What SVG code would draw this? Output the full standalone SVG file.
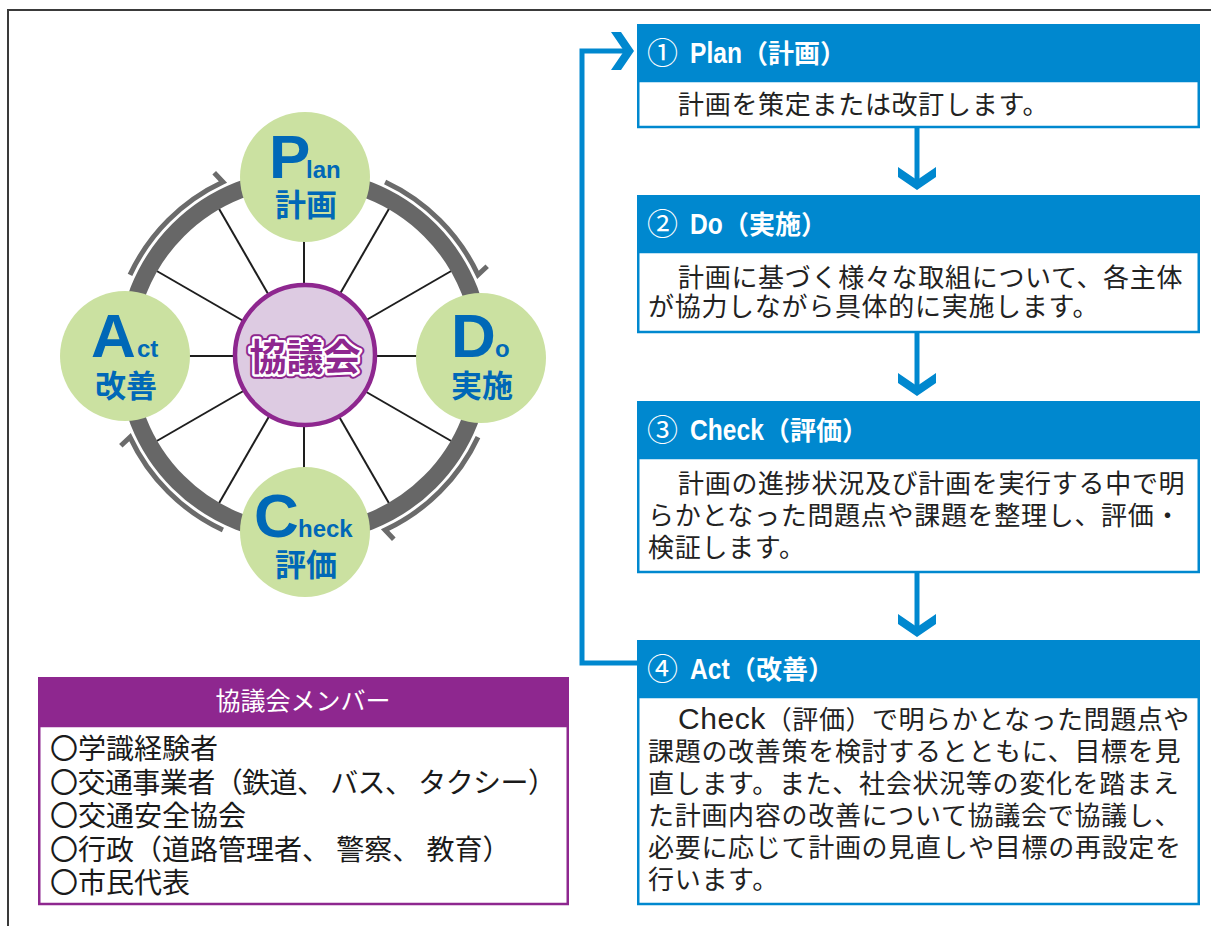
<svg xmlns="http://www.w3.org/2000/svg" width="1211" height="926" viewBox="0 0 1211 926">
<style>
.jp{font-family:"Noto Sans CJK JP","Noto Sans CJK SC",sans-serif}
.lat{font-family:"Liberation Sans",Arial,sans-serif;font-weight:bold}
.cyc{fill:#0068b7}
.kj{font-family:"Noto Sans CJK JP",sans-serif;font-weight:bold;font-size:31px;fill:#0068b7;text-anchor:middle}
.big{font-size:62px}
.sm{font-size:24px}
.pdca{fill:#cbe1a1}
.spoke{stroke:#1e1e1e;stroke-width:2}
.turn{fill:none;stroke:#6b6b6b;stroke-width:5;stroke-linejoin:miter}
.hdr{fill:#0088cf}
.body{fill:#fff;stroke:#0088cf;stroke-width:2.5}
.num{font-family:"Noto Sans CJK JP",sans-serif;font-size:31px;fill:#fff}
.hw{font-family:"Liberation Sans",Arial,sans-serif;font-weight:bold;font-size:30px;fill:#fff}
.hk{font-family:"Noto Sans CJK JP",sans-serif;font-weight:bold;font-size:26px;fill:#fff}
.bt{font-family:"Noto Sans CJK JP",sans-serif;font-size:26px;fill:#222;letter-spacing:0.7px}
.flow{fill:none;stroke:#0088cf;stroke-width:5}
.chev{fill:#0088cf}
.mt{font-family:"Noto Sans CJK JP",sans-serif;font-size:28px;fill:#1a1a1a}
</style>

<path d="M8,926 V10 H1211" fill="none" stroke="#3a3a3a" stroke-width="2"/>

<g id="cycle">
  <g id="spokes">
    <line class="spoke" x1="374" y1="356" x2="474" y2="356"/>
    <line class="spoke" x1="364.6" y1="391" x2="451.2" y2="441"/>
    <line class="spoke" x1="339" y1="416.6" x2="389" y2="503.2"/>
    <line class="spoke" x1="304" y1="426" x2="304" y2="526"/>
    <line class="spoke" x1="269" y1="416.6" x2="219" y2="503.2"/>
    <line class="spoke" x1="243.4" y1="391" x2="156.8" y2="441"/>
    <line class="spoke" x1="234" y1="356" x2="134" y2="356"/>
    <line class="spoke" x1="243.4" y1="321" x2="156.8" y2="271"/>
    <line class="spoke" x1="269" y1="295.4" x2="219" y2="208.8"/>
    <line class="spoke" x1="304" y1="286" x2="304" y2="186"/>
    <line class="spoke" x1="339" y1="295.4" x2="389" y2="208.8"/>
    <line class="spoke" x1="364.6" y1="321" x2="451.2" y2="271"/>
  </g>
  <circle id="ring" cx="304" cy="356" r="178" fill="none" stroke="#676767" stroke-width="17"/>
  <g id="turn-arrows">
    <path class="turn" d="M385.1,182 A192,192 0 0 1 478,274.9 L487.2,266.2"/>
    <path class="turn" d="M478,437.1 A192,192 0 0 1 385.1,530 L393.8,539.2"/>
    <path class="turn" d="M222.9,530 A192,192 0 0 1 130,437.1 L120.8,445.8"/>
    <path class="turn" d="M130,274.9 A192,192 0 0 1 222.9,182 L214.2,172.8"/>
  </g>
  <g id="plan">
    <circle class="pdca" cx="305" cy="177" r="65"/>
    <text class="lat cyc big" x="269" y="178">P</text>
    <text class="lat cyc sm" x="306" y="178">lan</text>
    <text class="kj" x="306" y="216">計画</text>
  </g>
  <g id="do">
    <circle class="pdca" cx="481" cy="358" r="65"/>
    <text class="lat cyc big" x="451" y="357">D</text>
    <text class="lat cyc sm" x="495" y="357">o</text>
    <text class="kj" x="482" y="397">実施</text>
  </g>
  <g id="check">
    <circle class="pdca" cx="305" cy="532" r="65"/>
    <text class="lat cyc big" x="254" y="537">C</text>
    <text class="lat cyc sm" x="298" y="537">heck</text>
    <text class="kj" x="306" y="576">評価</text>
  </g>
  <g id="act">
    <circle class="pdca" cx="125" cy="356" r="65"/>
    <text class="lat cyc big" x="91" y="357">A</text>
    <text class="lat cyc sm" x="137" y="357">ct</text>
    <text class="kj" x="126" y="397">改善</text>
  </g>
  <g id="council">
    <circle cx="305" cy="355" r="70" fill="#ddcbe2" stroke="#8e278f" stroke-width="4.5"/>
    <text class="jp" x="305" y="371" text-anchor="middle" font-size="37" font-weight="bold" fill="none" stroke="#8e278f" stroke-width="9" stroke-linejoin="round">協議会</text>
    <text class="jp" x="305" y="371" text-anchor="middle" font-size="37" font-weight="bold" fill="#8e278f" stroke="#fff" stroke-width="5" stroke-linejoin="round" paint-order="stroke">協議会</text>
  </g>
</g>

<g id="connectors">
  <line class="flow" x1="917" y1="128" x2="917" y2="180"/>
  <polygon class="chev" points="898,167 917,180 936,167 936,177 917,190 898,177"/>
  <line class="flow" x1="917" y1="333" x2="917" y2="386"/>
  <polygon class="chev" points="898,373 917,386 936,373 936,383 917,396 898,383"/>
  <line class="flow" x1="917" y1="573" x2="917" y2="627"/>
  <polygon class="chev" points="898,614 917,627 936,614 936,624 917,637 898,624"/>
  <path class="flow" d="M637,663 H582 V51 H624"/>
  <polygon class="chev" points="611,32 624,51 611,70 621,70 634,51 621,32"/>
</g>

<g id="step-plan">
  <rect class="hdr" x="637" y="24" width="563" height="57"/>
  <rect class="body" x="638.25" y="81" width="560.5" height="46"/>
  <text class="num" x="647" y="64">①</text>
  <text class="hw" transform="translate(690,63) scale(0.82,1)">Plan</text>
  <text class="hk" x="742" y="63">（計画）</text>
  <text class="bt" x="678" y="114">計画を策定または改訂します。</text>
</g>

<g id="step-do">
  <rect class="hdr" x="637" y="195" width="563" height="57"/>
  <rect class="body" x="638.25" y="252" width="560.5" height="80"/>
  <text class="num" x="647" y="235">②</text>
  <text class="hw" transform="translate(690,234) scale(0.82,1)">Do</text>
  <text class="hk" x="723" y="234">（実施）</text>
  <text class="bt" x="678" y="287">計画に基づく様々な取組について、各主体</text>
  <text class="bt" x="648" y="316">が協力しながら具体的に実施します。</text>
</g>

<g id="step-check">
  <rect class="hdr" x="637" y="401" width="563" height="57"/>
  <rect class="body" x="638.25" y="458" width="560.5" height="114"/>
  <text class="num" x="647" y="441">③</text>
  <text class="hw" transform="translate(690,440) scale(0.82,1)">Check</text>
  <text class="hk" x="764" y="440">（評価）</text>
  <text class="bt" x="678" y="493">計画の進捗状況及び計画を実行する中で明</text>
  <text class="bt" x="648" y="525">らかとなった問題点や課題を整理し、評価・</text>
  <text class="bt" x="648" y="557">検証します。</text>
</g>

<g id="step-act">
  <rect class="hdr" x="637" y="640" width="563" height="57"/>
  <rect class="body" x="638.25" y="697" width="560.5" height="207"/>
  <text class="num" x="647" y="680">④</text>
  <text class="hw" transform="translate(690,679) scale(0.82,1)">Act</text>
  <text class="hk" x="730" y="679">（改善）</text>
  <text class="bt" x="678" y="729" textLength="512" lengthAdjust="spacing"><tspan font-family="Liberation Sans, Arial, sans-serif" font-size="30">Check</tspan>（評価）で明らかとなった問題点や</text>
  <text class="bt" x="648" y="761">課題の改善策を検討するとともに、目標を見</text>
  <text class="bt" x="648" y="793">直します。また、社会状況等の変化を踏まえ</text>
  <text class="bt" x="648" y="825">た計画内容の改善について協議会で協議し、</text>
  <text class="bt" x="648" y="857">必要に応じて計画の見直しや目標の再設定を</text>
  <text class="bt" x="648" y="889">行います。</text>
</g>

<g id="members">
  <rect x="38" y="677" width="531" height="49" fill="#8e278f"/>
  <rect x="39.25" y="726" width="528.5" height="178" fill="#fff" stroke="#8e278f" stroke-width="2.5"/>
  <text class="jp" x="303" y="710" text-anchor="middle" font-size="25" fill="#fff">協議会メンバー</text>
  <text class="mt" x="50" y="759">〇学識経験者</text>
  <text class="mt" x="50" y="793" textLength="506" lengthAdjust="spacing">〇交通事業者（鉄道、 バス、 タクシー）</text>
  <text class="mt" x="50" y="826">〇交通安全協会</text>
  <text class="mt" x="50" y="860">〇行政（道路管理者、 警察、 教育）</text>
  <text class="mt" x="50" y="893">〇市民代表</text>
</g>
</svg>
